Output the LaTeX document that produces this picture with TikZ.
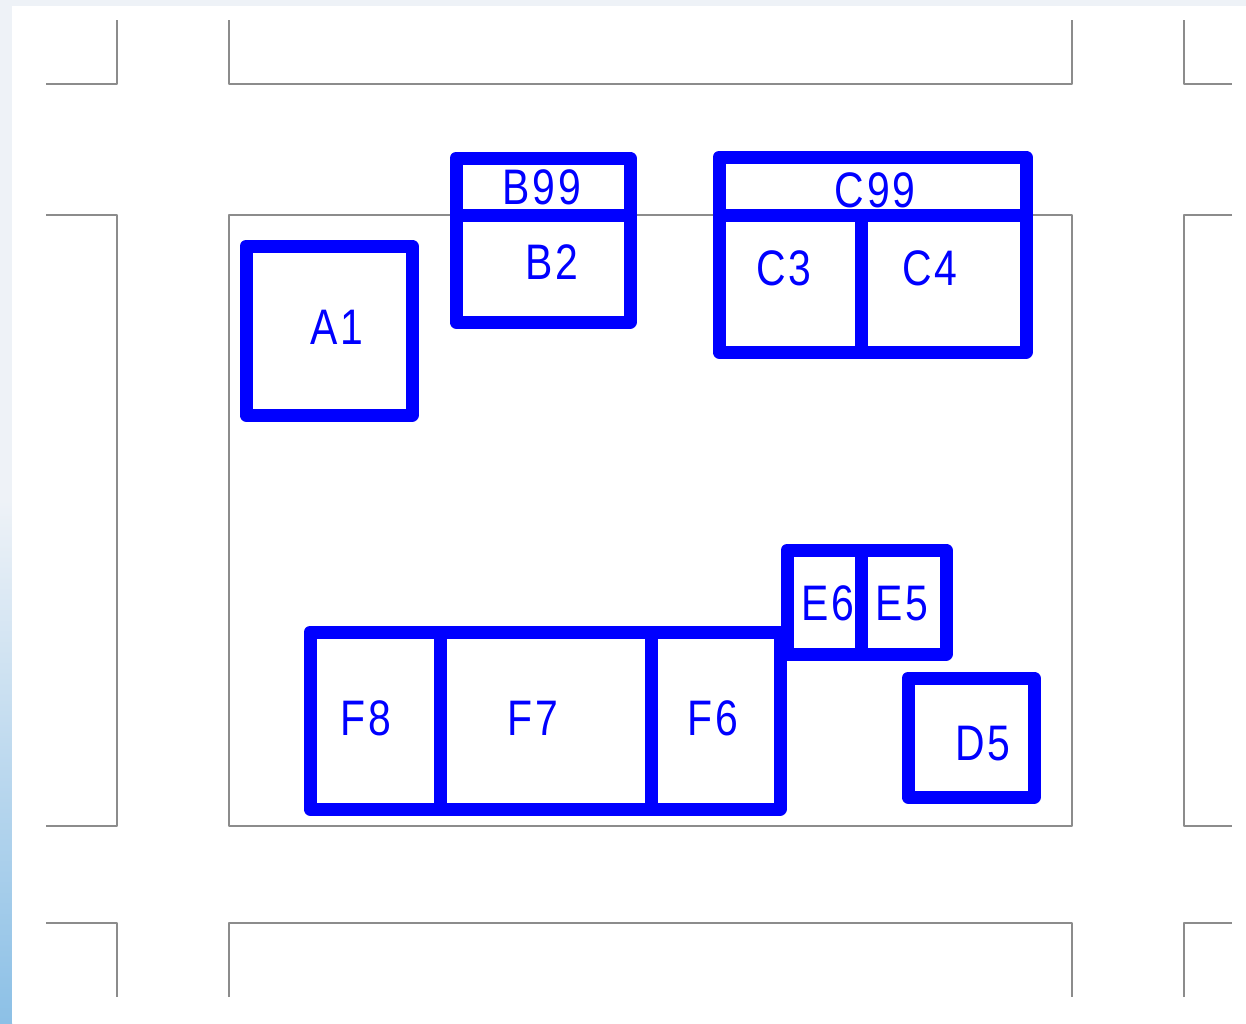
\documentclass[tikz,border=0pt]{standalone}
\usepackage{fontspec}
\newfontfamily\boxfont{Liberation Sans}[FakeStretch=0.82,LetterSpace=6]
\definecolor{gridgray}{RGB}{140,140,140}
\definecolor{edgeblue}{RGB}{0,0,255}
\definecolor{paperbg}{RGB}{238,242,247}
\definecolor{skyblue}{RGB}{140,192,230}
\begin{document}
\begin{tikzpicture}[x=0.1mm,y=-0.1mm,line join=round,line cap=butt,
	grid/.style={draw=gridgray,line width=0.4pt},
	box/.style={draw=edgeblue,line width=3.7pt},
	lbl/.style={text=edgeblue,font=\boxfont\fontsize{14.2pt}{16pt}\selectfont,inner sep=0pt,text height=3.45mm,text depth=0pt}]
	\useasboundingbox (0,0) rectangle (1246,1023);
	\fill[paperbg] (0,0) rectangle (1246,1023);
	\shade[top color=paperbg,bottom color=skyblue] (0,500) rectangle (12,1023);
	\fill[white] (12,6) rectangle (1246,1023);
	% thin frame lines
	\draw[grid] (46,84)-|(117,20);
	\draw[grid] (229,20)|-(1072,84)--(1072,20);
	\draw[grid] (1184,20)|-(1232,84);
	\draw[grid] (46,215)-|(117,826)--(46,826);
	\draw[grid] (229,215) rectangle (1072,826);
	\draw[grid] (1232,215)-|(1184,826)--(1232,826);
	\draw[grid] (46,923)-|(117,997);
	\draw[grid] (229,997)|-(1072,923)--(1072,997);
	\draw[grid] (1184,997)|-(1232,923);
	% blue boxes
	\draw[box] (246,246) rectangle (412,415);
	\draw[box] (456,158) rectangle (630,322) (456,215)--(630,215);
	\draw[box] (719,157) rectangle (1026,352) (719,215)--(1026,215) (861,215)--(861,352);
	\draw[box] (787,550) rectangle (946,654) (861,550)--(861,654);
	\draw[box] (310,632) rectangle (780,809) (440,632)--(440,809) (651,632)--(651,809);
	\draw[box] (908,678) rectangle (1034,797);
	\foreach \n/\x/\y in {A1/337/327,B99/542/187,B2/552/262,C99/875/190,C3/784/268,C4/930/268,
		E6/828/603,E5/902/603,F8/366/718,F7/533/718,F6/713/718,D5/983/743
	}{\node[lbl] (\n) at (\x,\y) {\n};}
\end{tikzpicture}
\end{document}
